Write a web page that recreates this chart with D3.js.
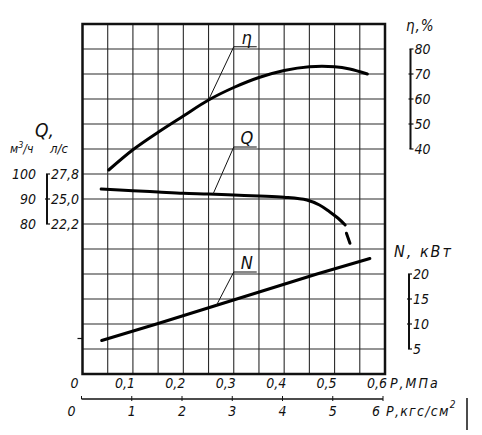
<!DOCTYPE html>
<html>
<head>
<meta charset="utf-8">
<script src="https://cdn.jsdelivr.net/npm/d3@7"></script>
<style>
  body { margin: 0; background: #fff; }
  text { font-family: "DejaVu Sans Condensed", "DejaVu Sans", sans-serif; font-style: italic; fill: #111; }
</style>
</head>
<body>
<div id="box"></div>
<script>
// pressure, MPa, and the curves
var etaP = [0.052, 0.1, 0.15, 0.2, 0.25, 0.3, 0.35, 0.4, 0.45, 0.5, 0.53, 0.565];
var etaV = [31.6, 39.7, 46.7, 53.2, 59.6, 64.6, 68.6, 71.4, 72.9, 72.9, 72.0, 70.0];

var qP = [0.037, 0.1, 0.15, 0.2, 0.25, 0.3, 0.35, 0.4, 0.445, 0.47, 0.49, 0.507, 0.521];
var qV = [94.0, 93.3, 92.8, 92.3, 92.0, 91.6, 91.2, 90.7, 89.6, 87.6, 84.9, 82.3, 79.6];
var qDashP = [0.5235, 0.5305];
var qDashV = [76.3, 72.3];

var nP = [0.038, 0.15, 0.29, 0.465, 0.57];
var nV = [6.7, 10.1, 14.5, 20.0, 23.1];

var mpaTicks = [0, 0.1, 0.2, 0.3, 0.4, 0.5, 0.6];
var kgfTicks = [0, 1, 2, 3, 4, 5, 6];
var etaTicks = [80, 70, 60, 50, 40];
var nTicks = [20, 15, 10, 5];
var qM3Ticks = [100, 90, 80];
var qLsLabels = ["27,8", "25,0", "22,2"];

var width = 482, height = 435;
var plotLeft = 82.5, plotRight = 385, plotTop = 24, plotBottom = 374;

var svg = d3.select("#box").append("svg")
    .attr("width", width)
    .attr("height", height);

var x = d3.scaleLinear().domain([0, 0.6]).range([plotLeft, plotRight]);
var xKgf = d3.scaleLinear().domain([0, 6]).range([plotLeft - 1, plotRight - 2]);
// every scale spans 14 grid rows
var yEta = d3.scaleLinear().domain([-50, 90]).range([plotBottom, plotTop]);
var yQ = d3.scaleLinear().domain([20, 160]).range([plotBottom, plotTop]);
var yN = d3.scaleLinear().domain([0, 70]).range([plotBottom, plotTop]);

function fmt(v) { return String(v).replace(".", ","); }

// grid
var grid = svg.append("g").attr("stroke", "#2a2a2a").attr("stroke-width", 1.1);
d3.range(1, 12).forEach(function(i) {
    var gx = x(i * 0.05);
    grid.append("line").attr("x1", gx).attr("x2", gx).attr("y1", plotTop).attr("y2", plotBottom);
});
d3.range(1, 14).forEach(function(i) {
    var gy = yN(i * 5);
    grid.append("line").attr("x1", plotLeft).attr("x2", plotRight).attr("y1", gy).attr("y2", gy);
});
svg.append("rect")
    .attr("x", plotLeft).attr("y", plotTop)
    .attr("width", plotRight - plotLeft).attr("height", plotBottom - plotTop)
    .attr("fill", "none").attr("stroke", "#111").attr("stroke-width", 2.5);
svg.append("line").attr("x1", plotLeft - 5).attr("x2", plotLeft)
    .attr("y1", yN(7.1)).attr("y2", yN(7.1)).attr("stroke", "#111").attr("stroke-width", 1.2);

// curves
function drawCurve(ps, vs, y, curve) {
    var line = d3.line()
        .x(function(d) { return x(d[0]); })
        .y(function(d) { return y(d[1]); })
        .curve(curve);
    svg.append("path")
        .datum(d3.zip(ps, vs))
        .attr("d", line)
        .attr("fill", "none")
        .attr("stroke", "#000")
        .attr("stroke-width", 3)
        .attr("stroke-linecap", "round");
}
drawCurve(etaP, etaV, yEta, d3.curveCatmullRom.alpha(0.5));
drawCurve(qP, qV, yQ, d3.curveCatmullRom.alpha(0.5));
drawCurve(qDashP, qDashV, yQ, d3.curveLinear);
drawCurve(nP, nV, yN, d3.curveLinear);

// leaders
var leaders = [
    { name: "η", y: yEta, on: [0.25, 59.6], elbow: [0.3, 80.9] },
    { name: "Q", y: yQ, on: [0.259, 92.0], elbow: [0.3, 110.8] },
    { name: "N", y: yN, on: [0.265, 13.6], elbow: [0.3, 20.4] }
];
leaders.forEach(function(d) {
    var ex = x(d.elbow[0]), ey = d.y(d.elbow[1]);
    svg.append("polyline")
        .attr("points", [[x(d.on[0]), d.y(d.on[1])], [ex, ey], [ex + 23, ey]].join(" "))
        .attr("fill", "none").attr("stroke", "#111").attr("stroke-width", 1);
    svg.append("text")
        .attr("x", ex + 13).attr("y", ey - 3)
        .attr("text-anchor", "middle")
        .style("font-size", "18px")
        .text(d.name);
});

// bottom axes
var bx = svg.append("g");
mpaTicks.forEach(function(t) {
    bx.append("text").attr("x", x(t) - 8).attr("y", 388)
        .attr("text-anchor", "middle").style("font-size", "14px").text(fmt(t));
});
bx.append("text").attr("x", 390).attr("y", 388)
    .style("font-size", "14px").style("letter-spacing", "2px").text("Р,МПа");

var ky = 399;
bx.append("line").attr("x1", xKgf(0)).attr("x2", xKgf(6)).attr("y1", ky).attr("y2", ky)
    .attr("stroke", "#111").attr("stroke-width", 1.5);
kgfTicks.forEach(function(t, i) {
    bx.append("line").attr("x1", xKgf(t)).attr("x2", xKgf(t))
        .attr("y1", ky - 3).attr("y2", i === 0 ? ky : ky + 2)
        .attr("stroke", "#111").attr("stroke-width", 1);
    var lx = xKgf(t);
    if (i === 0) lx -= 10;
    if (i === kgfTicks.length - 1) lx -= 7;
    bx.append("text").attr("x", lx).attr("y", 416)
        .attr("text-anchor", "middle").style("font-size", "14px").text(t);
});
var kt = bx.append("text").attr("x", 386).attr("y", 416)
    .style("font-size", "14px").style("letter-spacing", "1.3px");
kt.append("tspan").text("Р,кгс/см");
kt.append("tspan").attr("dy", -8).style("font-size", "10px").text("2");
bx.append("line").attr("x1", 467).attr("x2", 467).attr("y1", 398).attr("y2", 430)
    .attr("stroke", "#111").attr("stroke-width", 1.5);

// side scales
function sideScale(ticks, y, ax, labels) {
    var g = svg.append("g");
    var y0 = y(ticks[0]), y1 = y(ticks[ticks.length - 1]);
    g.append("line").attr("x1", ax).attr("x2", ax).attr("y1", y0).attr("y2", y1)
        .attr("stroke", "#111").attr("stroke-width", 2);
    ticks.forEach(function(t, i) {
        var ty = y(t);
        var end = (i === 0 || i === ticks.length - 1);
        g.append("line")
            .attr("x1", end ? ax - 1 : ax - 2).attr("x2", ax + 3)
            .attr("y1", ty).attr("y2", ty)
            .attr("stroke", "#111").attr("stroke-width", 1.2);
        g.append("text")
            .attr("x", ax + 4)
            .attr("y", ty)
            .attr("dy", "0.36em")
            .style("font-size", "14px")
            .text(labels ? labels[i] : t);
    });
    return g;
}
sideScale(etaTicks, yEta, 410.5, null);
svg.append("text").attr("x", 406).attr("y", 31)
    .style("font-size", "15px").style("letter-spacing", "1px").text("η,%");

sideScale(nTicks, yN, 409, null);
svg.append("text").attr("x", 394).attr("y", 257)
    .style("font-size", "16px").style("letter-spacing", "2px").text("N, кВт");

var qg = sideScale(qM3Ticks, yQ, 47, qLsLabels);
qM3Ticks.forEach(function(t) {
    qg.append("text").attr("x", 36).attr("y", yQ(t)).attr("dy", "0.36em")
        .attr("text-anchor", "end").style("font-size", "14px").text(t);
});
svg.append("text").attr("x", 35).attr("y", 137).style("font-size", "19px").text("Q,");
var mt = svg.append("text").attr("x", 10).attr("y", 153).style("font-size", "12px");
mt.append("tspan").text("м");
mt.append("tspan").attr("dy", -5).style("font-size", "9px").text("3");
mt.append("tspan").attr("dy", 5).text("/ч");
svg.append("text").attr("x", 50).attr("y", 153).style("font-size", "13px").text("л/с");
</script>
</body>
</html>
